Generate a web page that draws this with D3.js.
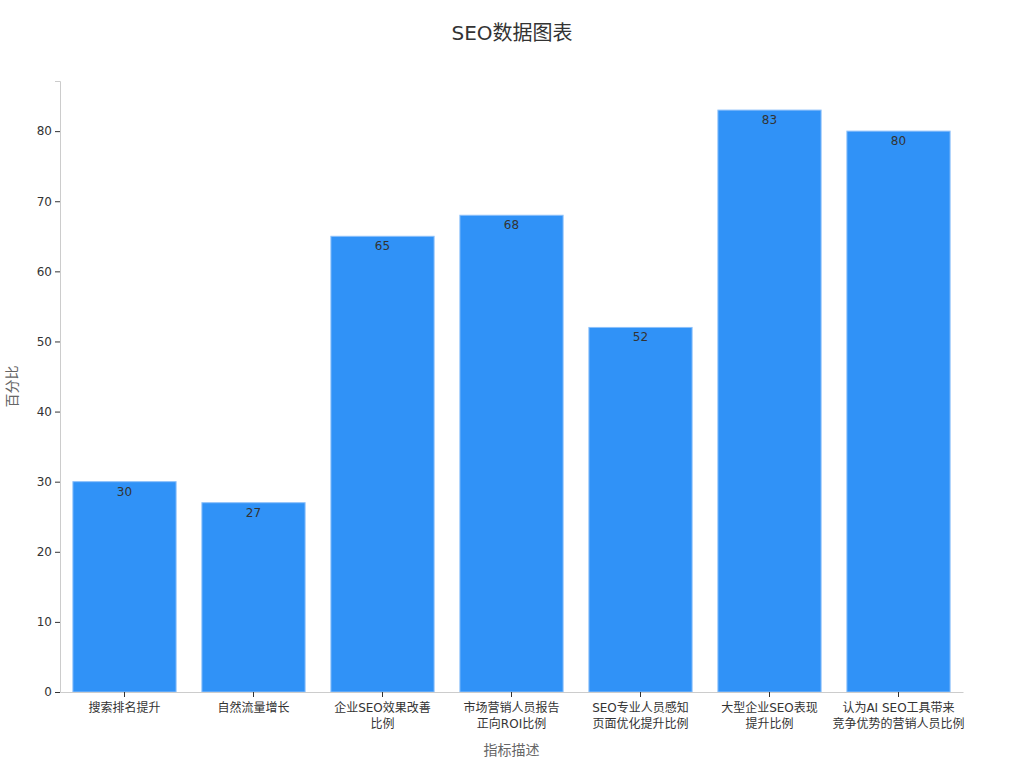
<!DOCTYPE html>
<html>
<head>
<meta charset="utf-8">
<script src="https://cdn.jsdelivr.net/npm/d3@7"></script>
<style>
  body { margin: 0; background: #fff; }
  text { font-family: "DejaVu Sans", "Noto Sans CJK SC", sans-serif; }
</style>
</head>
<body>
<svg id="chart" width="1024" height="768"></svg>
<script>
// chart data
var categories = [
  "搜索排名提升",
  "自然流量增长",
  "企业SEO效果改善\n比例",
  "市场营销人员报告\n正向ROI比例",
  "SEO专业人员感知\n页面优化提升比例",
  "大型企业SEO表现\n提升比例",
  "认为AI SEO工具带来\n竞争优势的营销人员比例"
];
var values = [30, 27, 65, 68, 52, 83, 80];
var yTicks = [0, 10, 20, 30, 40, 50, 60, 70, 80];

var width = 1024, height = 768
  , margin = {top: 81, right: 61, bottom: 76, left: 60}
  , barColor = "#3092f7";

var svg = d3.select("#chart");

var x = d3.scaleBand()
    .domain(categories)
    .range([margin.left, width - margin.right])
    .paddingInner(0.2)
    .paddingOuter(0.1);

var y = d3.scaleLinear()
    .domain([0, d3.max(values) * 1.05])
    .range([height - margin.bottom, margin.top]);

// title
svg.append("text")
    .attr("x", width / 2)
    .attr("y", 40)
    .attr("text-anchor", "middle")
    .attr("font-size", 20)
    .attr("fill", "#333")
    .text("SEO数据图表");

// bars
svg.append("g")
  .selectAll("rect")
  .data(values)
  .enter().append("rect")
    .attr("x", function(d, i) { return x(categories[i]); })
    .attr("y", function(d) { return y(d); })
    .attr("width", x.bandwidth())
    .attr("height", function(d) { return y(0) - y(d); })
    .attr("fill", barColor)
    .attr("stroke", "#8cc0fa")
    .attr("stroke-width", 1);

// value labels
svg.append("g")
  .selectAll("text")
  .data(values)
  .enter().append("text")
    .attr("x", function(d, i) { return x(categories[i]) + x.bandwidth() / 2; })
    .attr("y", function(d) { return y(d) + 14; })
    .attr("text-anchor", "middle")
    .attr("font-size", 12)
    .attr("fill", "#333")
    .text(function(d) { return d; });

// y axis
var gy = svg.append("g")
    .attr("transform", "translate(" + margin.left + ",0)")
    .call(d3.axisLeft(y).tickValues(yTicks).tickSize(5).tickPadding(3));
gy.select(".domain").attr("stroke", "#ccc");
gy.selectAll(".tick line").attr("stroke", "#333");
gy.selectAll(".tick text").attr("font-size", 12).attr("fill", "#333")
    .style("font-family", "'DejaVu Sans', sans-serif");

// x axis
var gx = svg.append("g")
    .attr("transform", "translate(0," + (height - margin.bottom) + ")")
    .call(d3.axisBottom(x).tickSize(5).tickSizeOuter(0).tickFormat(""));
gx.select(".domain").attr("stroke", "#ccc");
gx.selectAll(".tick line").attr("stroke", "#333");
gx.selectAll(".tick").each(function(d) {
  var lines = d.split("\n");
  var t = d3.select(this).append("text")
      .attr("text-anchor", "middle")
      .attr("font-size", 12)
      .attr("fill", "#333");
  lines.forEach(function(l, i) {
    t.append("tspan")
        .attr("x", 0)
        .attr("y", 20 + i * 16)
        .text(l);
  });
});

// axis titles
svg.append("text")
    .attr("x", (margin.left + width - margin.right) / 2)
    .attr("y", 755)
    .attr("text-anchor", "middle")
    .attr("font-size", 14)
    .attr("fill", "#666")
    .text("指标描述");

svg.append("text")
    .attr("transform", "translate(17," + ((margin.top + height - margin.bottom) / 2) + ") rotate(-90)")
    .attr("text-anchor", "middle")
    .attr("font-size", 14)
    .attr("fill", "#666")
    .text("百分比");
</script>
</body>
</html>
